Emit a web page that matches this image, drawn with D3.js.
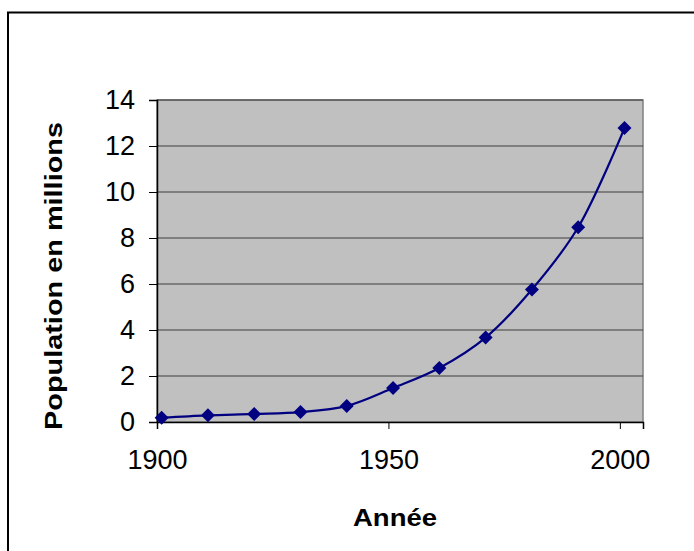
<!DOCTYPE html>
<html>
<head>
<meta charset="utf-8">
<script src="https://cdn.jsdelivr.net/npm/d3@7"></script>
<style>
  body { margin: 0; background: #fff; }
  svg { display: block; }
  text { font-family: "Liberation Sans", Arial, sans-serif; }
</style>
</head>
<body>
<div id="chart"></div>
<script>
// data
var years = [1901, 1911, 1921, 1931, 1941, 1951, 1961, 1971, 1981, 1991, 2001];
var population = [0.19, 0.29, 0.35, 0.43, 0.70, 1.48, 2.35, 3.67, 5.76, 8.47, 12.78];
var xTicks = [1900, 1950, 2000];
var yTicks = [0, 2, 4, 6, 8, 10, 12, 14];

function createChart() {
  var width = 694, height = 551;
  var plot = {left: 157, top: 100, right: 643, bottom: 422};

  var svg = d3.select("#chart").append("svg")
      .attr("width", width)
      .attr("height", height);

  // outer chart border (runs off the bottom/right edge)
  svg.append("rect")
      .attr("x", 8).attr("y", 12.5)
      .attr("width", 720).attr("height", 600)
      .attr("fill", "#fff")
      .attr("stroke", "#000")
      .attr("stroke-width", 2);

  var x = d3.scaleLinear().domain([1900, 2005]).range([plot.left, plot.right]);
  var y = d3.scaleLinear().domain([0, 14]).range([plot.bottom, plot.top]);

  // grey plot area
  svg.append("rect")
      .attr("x", plot.left).attr("y", plot.top)
      .attr("width", plot.right - plot.left)
      .attr("height", plot.bottom - plot.top)
      .attr("fill", "#c0c0c0")
      .attr("stroke", "#808080")
      .attr("stroke-width", 1.5);

  // gridlines
  svg.append("g")
    .selectAll("line")
    .data(yTicks.filter(d => d > 0))
    .join("line")
      .attr("x1", plot.left).attr("x2", plot.right)
      .attr("y1", d => y(d)).attr("y2", d => y(d))
      .attr("stroke", "#3c3c3c")
      .attr("stroke-width", 1.2);

  // y axis
  svg.append("g")
      .attr("transform", `translate(${plot.left},0)`)
      .call(d3.axisLeft(y).tickValues(yTicks).tickSize(8).tickPadding(14))
      .call(g => g.select(".domain").attr("stroke", "#000").attr("stroke-width", 1.5))
      .call(g => g.selectAll(".tick line").attr("stroke", "#000"))
      .call(g => g.selectAll("text").attr("font-size", 27).attr("fill", "#000")
        .style("font-family", "'Liberation Sans', Arial, sans-serif"));

  // x axis
  svg.append("g")
      .attr("transform", `translate(0,${plot.bottom})`)
      .call(d3.axisBottom(x).tickValues(xTicks).tickFormat(d3.format("d")).tickSize(7).tickPadding(21))
      .call(g => g.select(".domain").attr("stroke", "#000").attr("stroke-width", 1.5))
      .call(g => g.selectAll(".tick line").attr("stroke", "#000"))
      .call(g => g.selectAll("text").attr("font-size", 27).attr("fill", "#000")
        .style("font-family", "'Liberation Sans', Arial, sans-serif"));

  // axis titles
  svg.append("text")
      .attr("x", 395).attr("y", 526)
      .attr("text-anchor", "middle")
      .attr("font-size", 24)
      .attr("font-weight", "bold")
      .attr("textLength", 84)
      .attr("lengthAdjust", "spacingAndGlyphs")
      .text("Année");

  svg.append("text")
      .attr("transform", "translate(62,276) rotate(-90)")
      .attr("text-anchor", "middle")
      .attr("font-size", 24)
      .attr("font-weight", "bold")
      .attr("textLength", 308)
      .attr("lengthAdjust", "spacingAndGlyphs")
      .text("Population en millions");

  var data = years.map((yr, i) => ({year: yr, value: population[i]}));

  // smoothed line
  var line = d3.line()
      .x(d => x(d.year))
      .y(d => y(d.value))
      .curve(d3.curveCatmullRom.alpha(0.5));

  svg.append("path")
      .datum(data)
      .attr("d", line)
      .attr("fill", "none")
      .attr("stroke", "#000080")
      .attr("stroke-width", 2.2);

  // diamond markers
  var diamond = d3.symbol().type(d3.symbolSquare).size(98);
  svg.append("g")
    .selectAll("path")
    .data(data)
    .join("path")
      .attr("d", diamond)
      .attr("transform", d => `translate(${x(d.year)},${y(d.value)}) rotate(45)`)
      .attr("fill", "#000080");
}

window.onload = createChart;
</script>
</body>
</html>
